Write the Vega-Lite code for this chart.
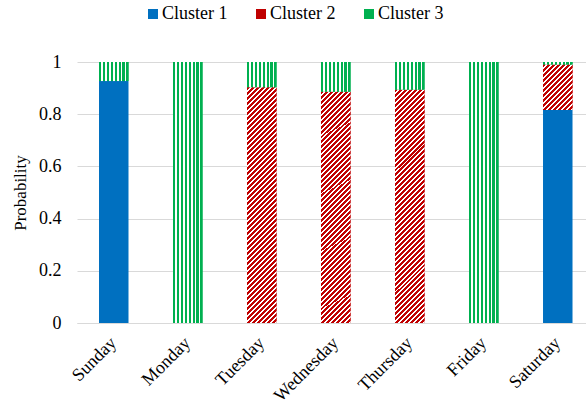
{
  "$schema": "https://vega.github.io/schema/vega-lite/v6.json",
  "width": 509,
  "height": 261,
  "autosize": {"type": "none"},
  "padding": {"left": 77, "top": 62, "right": 0, "bottom": 81},
  "background": "white",
  "config": {"font": "Liberation Serif", "view": {"stroke": null}},
  "data": {"values": [
    {"day": "Sunday", "cluster": "Cluster 1", "p": 0.927},
    {"day": "Sunday", "cluster": "Cluster 3", "p": 0.073},
    {"day": "Monday", "cluster": "Cluster 3", "p": 1.0},
    {"day": "Tuesday", "cluster": "Cluster 2", "p": 0.903},
    {"day": "Tuesday", "cluster": "Cluster 3", "p": 0.097},
    {"day": "Wednesday", "cluster": "Cluster 2", "p": 0.886},
    {"day": "Wednesday", "cluster": "Cluster 3", "p": 0.114},
    {"day": "Thursday", "cluster": "Cluster 2", "p": 0.894},
    {"day": "Thursday", "cluster": "Cluster 3", "p": 0.106},
    {"day": "Friday", "cluster": "Cluster 3", "p": 1.0},
    {"day": "Saturday", "cluster": "Cluster 1", "p": 0.816},
    {"day": "Saturday", "cluster": "Cluster 2", "p": 0.174},
    {"day": "Saturday", "cluster": "Cluster 3", "p": 0.01}
  ]},
  "transform": [
    {"stack": "p", "groupby": ["day"], "sort": [{"field": "cluster", "order": "ascending"}], "as": ["p0", "p1"]}
  ],
  "encoding": {
    "x": {
      "field": "day", "type": "nominal",
      "sort": ["Sunday", "Monday", "Tuesday", "Wednesday", "Thursday", "Friday", "Saturday"],
      "scale": {"paddingInner": 0.6014, "paddingOuter": 0.2398, "align": 0.62},
      "axis": {
        "title": null, "domain": true, "domainColor": "#d9d9d9", "domainWidth": 1,
        "ticks": false, "grid": false, "labelAngle": -45, "labelAlign": "right", "labelBaseline": "middle",
        "labelFont": "Liberation Serif", "labelFontSize": 18, "labelColor": "#000000", "labelPadding": 17
      }
    },
    "y": {
      "field": "p1", "type": "quantitative",
      "scale": {"domain": [0, 1], "nice": false},
      "axis": {
        "title": "Probability", "titleFont": "Liberation Serif", "titleFontSize": 17, "titleFontWeight": "normal",
        "titleColor": "#000000", "titlePadding": 9,
        "values": [0, 0.2, 0.4, 0.6, 0.8, 1], "format": "~g",
        "domain": false, "ticks": false, "grid": true, "gridColor": "#d9d9d9", "gridWidth": 1,
        "labelFont": "Liberation Serif", "labelFontSize": 18, "labelColor": "#000000", "labelPadding": 16
      }
    },
    "y2": {"field": "p0"}
  },
  "layer": [
    {
      "mark": {"type": "bar", "strokeWidth": 0},
      "encoding": {
        "color": {
          "field": "cluster", "type": "nominal",
          "scale": {"domain": ["Cluster 1", "Cluster 2", "Cluster 3"], "range": ["#0070c0", "#c00000", "#00b050"]},
          "legend": {
            "orient": "none", "legendX": 67, "legendY": -57, "direction": "horizontal", "title": null,
            "labelFont": "Liberation Serif", "labelFontSize": 18, "labelColor": "#000000",
            "symbolType": "square", "symbolSize": 100, "symbolStrokeWidth": 0, "labelOffset": 0, "columnPadding": 24
          }
        }
      }
    },
    {
      "transform": [{"filter": "datum.cluster === 'Cluster 2' && datum.day !== 'Saturday'"}],
      "mark": {"type": "bar", "strokeWidth": 0, "fill": {"gradient": "linear", "x1": 0, "y1": 0, "x2": 0.1401, "y2": 1.1087, "stops": [
        {"offset":0,"color":"#c00000"},{"offset":0.011321,"color":"#c00000"},{"offset":0.011321,"color":"#ffffff"},{"offset":0.018868,"color":"#ffffff"},
        {"offset":0.018868,"color":"#c00000"},{"offset":0.030189,"color":"#c00000"},{"offset":0.030189,"color":"#ffffff"},{"offset":0.037736,"color":"#ffffff"},
        {"offset":0.037736,"color":"#c00000"},{"offset":0.049057,"color":"#c00000"},{"offset":0.049057,"color":"#ffffff"},{"offset":0.056604,"color":"#ffffff"},
        {"offset":0.056604,"color":"#c00000"},{"offset":0.067925,"color":"#c00000"},{"offset":0.067925,"color":"#ffffff"},{"offset":0.075472,"color":"#ffffff"},
        {"offset":0.075472,"color":"#c00000"},{"offset":0.086793,"color":"#c00000"},{"offset":0.086793,"color":"#ffffff"},{"offset":0.09434,"color":"#ffffff"},
        {"offset":0.09434,"color":"#c00000"},{"offset":0.105661,"color":"#c00000"},{"offset":0.105661,"color":"#ffffff"},{"offset":0.113208,"color":"#ffffff"},
        {"offset":0.113208,"color":"#c00000"},{"offset":0.124529,"color":"#c00000"},{"offset":0.124529,"color":"#ffffff"},{"offset":0.132075,"color":"#ffffff"},
        {"offset":0.132075,"color":"#c00000"},{"offset":0.143396,"color":"#c00000"},{"offset":0.143396,"color":"#ffffff"},{"offset":0.150943,"color":"#ffffff"},
        {"offset":0.150943,"color":"#c00000"},{"offset":0.162264,"color":"#c00000"},{"offset":0.162264,"color":"#ffffff"},{"offset":0.169811,"color":"#ffffff"},
        {"offset":0.169811,"color":"#c00000"},{"offset":0.181132,"color":"#c00000"},{"offset":0.181132,"color":"#ffffff"},{"offset":0.188679,"color":"#ffffff"},
        {"offset":0.188679,"color":"#c00000"},{"offset":0.2,"color":"#c00000"},{"offset":0.2,"color":"#ffffff"},{"offset":0.207547,"color":"#ffffff"},
        {"offset":0.207547,"color":"#c00000"},{"offset":0.218868,"color":"#c00000"},{"offset":0.218868,"color":"#ffffff"},{"offset":0.226415,"color":"#ffffff"},
        {"offset":0.226415,"color":"#c00000"},{"offset":0.237736,"color":"#c00000"},{"offset":0.237736,"color":"#ffffff"},{"offset":0.245283,"color":"#ffffff"},
        {"offset":0.245283,"color":"#c00000"},{"offset":0.256604,"color":"#c00000"},{"offset":0.256604,"color":"#ffffff"},{"offset":0.264151,"color":"#ffffff"},
        {"offset":0.264151,"color":"#c00000"},{"offset":0.275472,"color":"#c00000"},{"offset":0.275472,"color":"#ffffff"},{"offset":0.283019,"color":"#ffffff"},
        {"offset":0.283019,"color":"#c00000"},{"offset":0.29434,"color":"#c00000"},{"offset":0.29434,"color":"#ffffff"},{"offset":0.301887,"color":"#ffffff"},
        {"offset":0.301887,"color":"#c00000"},{"offset":0.313208,"color":"#c00000"},{"offset":0.313208,"color":"#ffffff"},{"offset":0.320755,"color":"#ffffff"},
        {"offset":0.320755,"color":"#c00000"},{"offset":0.332076,"color":"#c00000"},{"offset":0.332076,"color":"#ffffff"},{"offset":0.339623,"color":"#ffffff"},
        {"offset":0.339623,"color":"#c00000"},{"offset":0.350944,"color":"#c00000"},{"offset":0.350944,"color":"#ffffff"},{"offset":0.358491,"color":"#ffffff"},
        {"offset":0.358491,"color":"#c00000"},{"offset":0.369812,"color":"#c00000"},{"offset":0.369812,"color":"#ffffff"},{"offset":0.377358,"color":"#ffffff"},
        {"offset":0.377358,"color":"#c00000"},{"offset":0.388679,"color":"#c00000"},{"offset":0.388679,"color":"#ffffff"},{"offset":0.396226,"color":"#ffffff"},
        {"offset":0.396226,"color":"#c00000"},{"offset":0.407547,"color":"#c00000"},{"offset":0.407547,"color":"#ffffff"},{"offset":0.415094,"color":"#ffffff"},
        {"offset":0.415094,"color":"#c00000"},{"offset":0.426415,"color":"#c00000"},{"offset":0.426415,"color":"#ffffff"},{"offset":0.433962,"color":"#ffffff"},
        {"offset":0.433962,"color":"#c00000"},{"offset":0.445283,"color":"#c00000"},{"offset":0.445283,"color":"#ffffff"},{"offset":0.45283,"color":"#ffffff"},
        {"offset":0.45283,"color":"#c00000"},{"offset":0.464151,"color":"#c00000"},{"offset":0.464151,"color":"#ffffff"},{"offset":0.471698,"color":"#ffffff"},
        {"offset":0.471698,"color":"#c00000"},{"offset":0.483019,"color":"#c00000"},{"offset":0.483019,"color":"#ffffff"},{"offset":0.490566,"color":"#ffffff"},
        {"offset":0.490566,"color":"#c00000"},{"offset":0.501887,"color":"#c00000"},{"offset":0.501887,"color":"#ffffff"},{"offset":0.509434,"color":"#ffffff"},
        {"offset":0.509434,"color":"#c00000"},{"offset":0.520755,"color":"#c00000"},{"offset":0.520755,"color":"#ffffff"},{"offset":0.528302,"color":"#ffffff"},
        {"offset":0.528302,"color":"#c00000"},{"offset":0.539623,"color":"#c00000"},{"offset":0.539623,"color":"#ffffff"},{"offset":0.54717,"color":"#ffffff"},
        {"offset":0.54717,"color":"#c00000"},{"offset":0.558491,"color":"#c00000"},{"offset":0.558491,"color":"#ffffff"},{"offset":0.566038,"color":"#ffffff"},
        {"offset":0.566038,"color":"#c00000"},{"offset":0.577359,"color":"#c00000"},{"offset":0.577359,"color":"#ffffff"},{"offset":0.584906,"color":"#ffffff"},
        {"offset":0.584906,"color":"#c00000"},{"offset":0.596227,"color":"#c00000"},{"offset":0.596227,"color":"#ffffff"},{"offset":0.603774,"color":"#ffffff"},
        {"offset":0.603774,"color":"#c00000"},{"offset":0.615095,"color":"#c00000"},{"offset":0.615095,"color":"#ffffff"},{"offset":0.622642,"color":"#ffffff"},
        {"offset":0.622642,"color":"#c00000"},{"offset":0.633963,"color":"#c00000"},{"offset":0.633963,"color":"#ffffff"},{"offset":0.641509,"color":"#ffffff"},
        {"offset":0.641509,"color":"#c00000"},{"offset":0.65283,"color":"#c00000"},{"offset":0.65283,"color":"#ffffff"},{"offset":0.660377,"color":"#ffffff"},
        {"offset":0.660377,"color":"#c00000"},{"offset":0.671698,"color":"#c00000"},{"offset":0.671698,"color":"#ffffff"},{"offset":0.679245,"color":"#ffffff"},
        {"offset":0.679245,"color":"#c00000"},{"offset":0.690566,"color":"#c00000"},{"offset":0.690566,"color":"#ffffff"},{"offset":0.698113,"color":"#ffffff"},
        {"offset":0.698113,"color":"#c00000"},{"offset":0.709434,"color":"#c00000"},{"offset":0.709434,"color":"#ffffff"},{"offset":0.716981,"color":"#ffffff"},
        {"offset":0.716981,"color":"#c00000"},{"offset":0.728302,"color":"#c00000"},{"offset":0.728302,"color":"#ffffff"},{"offset":0.735849,"color":"#ffffff"},
        {"offset":0.735849,"color":"#c00000"},{"offset":0.74717,"color":"#c00000"},{"offset":0.74717,"color":"#ffffff"},{"offset":0.754717,"color":"#ffffff"},
        {"offset":0.754717,"color":"#c00000"},{"offset":0.766038,"color":"#c00000"},{"offset":0.766038,"color":"#ffffff"},{"offset":0.773585,"color":"#ffffff"},
        {"offset":0.773585,"color":"#c00000"},{"offset":0.784906,"color":"#c00000"},{"offset":0.784906,"color":"#ffffff"},{"offset":0.792453,"color":"#ffffff"},
        {"offset":0.792453,"color":"#c00000"},{"offset":0.803774,"color":"#c00000"},{"offset":0.803774,"color":"#ffffff"},{"offset":0.811321,"color":"#ffffff"},
        {"offset":0.811321,"color":"#c00000"},{"offset":0.822642,"color":"#c00000"},{"offset":0.822642,"color":"#ffffff"},{"offset":0.830189,"color":"#ffffff"},
        {"offset":0.830189,"color":"#c00000"},{"offset":0.84151,"color":"#c00000"},{"offset":0.84151,"color":"#ffffff"},{"offset":0.849057,"color":"#ffffff"},
        {"offset":0.849057,"color":"#c00000"},{"offset":0.860378,"color":"#c00000"},{"offset":0.860378,"color":"#ffffff"},{"offset":0.867925,"color":"#ffffff"},
        {"offset":0.867925,"color":"#c00000"},{"offset":0.879246,"color":"#c00000"},{"offset":0.879246,"color":"#ffffff"},{"offset":0.886792,"color":"#ffffff"},
        {"offset":0.886792,"color":"#c00000"},{"offset":0.898113,"color":"#c00000"},{"offset":0.898113,"color":"#ffffff"},{"offset":0.90566,"color":"#ffffff"},
        {"offset":0.90566,"color":"#c00000"},{"offset":0.916981,"color":"#c00000"},{"offset":0.916981,"color":"#ffffff"},{"offset":0.924528,"color":"#ffffff"},
        {"offset":0.924528,"color":"#c00000"},{"offset":0.935849,"color":"#c00000"},{"offset":0.935849,"color":"#ffffff"},{"offset":0.943396,"color":"#ffffff"},
        {"offset":0.943396,"color":"#c00000"},{"offset":0.954717,"color":"#c00000"},{"offset":0.954717,"color":"#ffffff"},{"offset":0.962264,"color":"#ffffff"},
        {"offset":0.962264,"color":"#c00000"},{"offset":0.973585,"color":"#c00000"},{"offset":0.973585,"color":"#ffffff"},{"offset":0.981132,"color":"#ffffff"},
        {"offset":0.981132,"color":"#c00000"},{"offset":0.992453,"color":"#c00000"},{"offset":0.992453,"color":"#ffffff"},{"offset":1,"color":"#ffffff"}
      ]}}
    },
    {
      "transform": [{"filter": "datum.cluster === 'Cluster 2' && datum.day === 'Saturday'"}],
      "mark": {"type": "bar", "strokeWidth": 0, "fill": {"gradient": "linear", "x1": 0, "y1": 0, "x2": 0.7538, "y2": 1.16, "stops": [
        {"offset":0,"color":"#c00000"},{"offset":0.04,"color":"#c00000"},{"offset":0.04,"color":"#ffffff"},{"offset":0.066667,"color":"#ffffff"},
        {"offset":0.066667,"color":"#c00000"},{"offset":0.106667,"color":"#c00000"},{"offset":0.106667,"color":"#ffffff"},{"offset":0.133333,"color":"#ffffff"},
        {"offset":0.133333,"color":"#c00000"},{"offset":0.173333,"color":"#c00000"},{"offset":0.173333,"color":"#ffffff"},{"offset":0.2,"color":"#ffffff"},
        {"offset":0.2,"color":"#c00000"},{"offset":0.24,"color":"#c00000"},{"offset":0.24,"color":"#ffffff"},{"offset":0.266667,"color":"#ffffff"},
        {"offset":0.266667,"color":"#c00000"},{"offset":0.306667,"color":"#c00000"},{"offset":0.306667,"color":"#ffffff"},{"offset":0.333333,"color":"#ffffff"},
        {"offset":0.333333,"color":"#c00000"},{"offset":0.373333,"color":"#c00000"},{"offset":0.373333,"color":"#ffffff"},{"offset":0.4,"color":"#ffffff"},
        {"offset":0.4,"color":"#c00000"},{"offset":0.44,"color":"#c00000"},{"offset":0.44,"color":"#ffffff"},{"offset":0.466667,"color":"#ffffff"},
        {"offset":0.466667,"color":"#c00000"},{"offset":0.506667,"color":"#c00000"},{"offset":0.506667,"color":"#ffffff"},{"offset":0.533333,"color":"#ffffff"},
        {"offset":0.533333,"color":"#c00000"},{"offset":0.573333,"color":"#c00000"},{"offset":0.573333,"color":"#ffffff"},{"offset":0.6,"color":"#ffffff"},
        {"offset":0.6,"color":"#c00000"},{"offset":0.64,"color":"#c00000"},{"offset":0.64,"color":"#ffffff"},{"offset":0.666667,"color":"#ffffff"},
        {"offset":0.666667,"color":"#c00000"},{"offset":0.706667,"color":"#c00000"},{"offset":0.706667,"color":"#ffffff"},{"offset":0.733333,"color":"#ffffff"},
        {"offset":0.733333,"color":"#c00000"},{"offset":0.773333,"color":"#c00000"},{"offset":0.773333,"color":"#ffffff"},{"offset":0.8,"color":"#ffffff"},
        {"offset":0.8,"color":"#c00000"},{"offset":0.84,"color":"#c00000"},{"offset":0.84,"color":"#ffffff"},{"offset":0.866667,"color":"#ffffff"},
        {"offset":0.866667,"color":"#c00000"},{"offset":0.906667,"color":"#c00000"},{"offset":0.906667,"color":"#ffffff"},{"offset":0.933333,"color":"#ffffff"},
        {"offset":0.933333,"color":"#c00000"},{"offset":0.973333,"color":"#c00000"},{"offset":0.973333,"color":"#ffffff"},{"offset":1,"color":"#ffffff"}
      ]}}
    },
    {
      "transform": [{"filter": "datum.cluster === 'Cluster 3'"}],
      "mark": {"type": "bar", "strokeWidth": 0, "fill": {"gradient": "linear", "x1": 0, "y1": 0, "x2": 1, "y2": 0, "stops": [
        {"offset":0,"color":"#00b050"},{"offset":0.07285,"color":"#00b050"},{"offset":0.07285,"color":"#ffffff"},{"offset":0.13245,"color":"#ffffff"},
        {"offset":0.13245,"color":"#00b050"},{"offset":0.2053,"color":"#00b050"},{"offset":0.2053,"color":"#ffffff"},{"offset":0.2649,"color":"#ffffff"},
        {"offset":0.2649,"color":"#00b050"},{"offset":0.33775,"color":"#00b050"},{"offset":0.33775,"color":"#ffffff"},{"offset":0.39735,"color":"#ffffff"},
        {"offset":0.39735,"color":"#00b050"},{"offset":0.4702,"color":"#00b050"},{"offset":0.4702,"color":"#ffffff"},{"offset":0.5298,"color":"#ffffff"},
        {"offset":0.5298,"color":"#00b050"},{"offset":0.60265,"color":"#00b050"},{"offset":0.60265,"color":"#ffffff"},{"offset":0.66225,"color":"#ffffff"},
        {"offset":0.66225,"color":"#00b050"},{"offset":0.7351,"color":"#00b050"},{"offset":0.7351,"color":"#ffffff"},{"offset":0.7947,"color":"#ffffff"},
        {"offset":0.7947,"color":"#00b050"},{"offset":0.86755,"color":"#00b050"},{"offset":0.86755,"color":"#ffffff"},{"offset":0.92715,"color":"#ffffff"},
        {"offset":0.92715,"color":"#00b050"},{"offset":1,"color":"#00b050"}
      ]}}
    }
  ]
}
